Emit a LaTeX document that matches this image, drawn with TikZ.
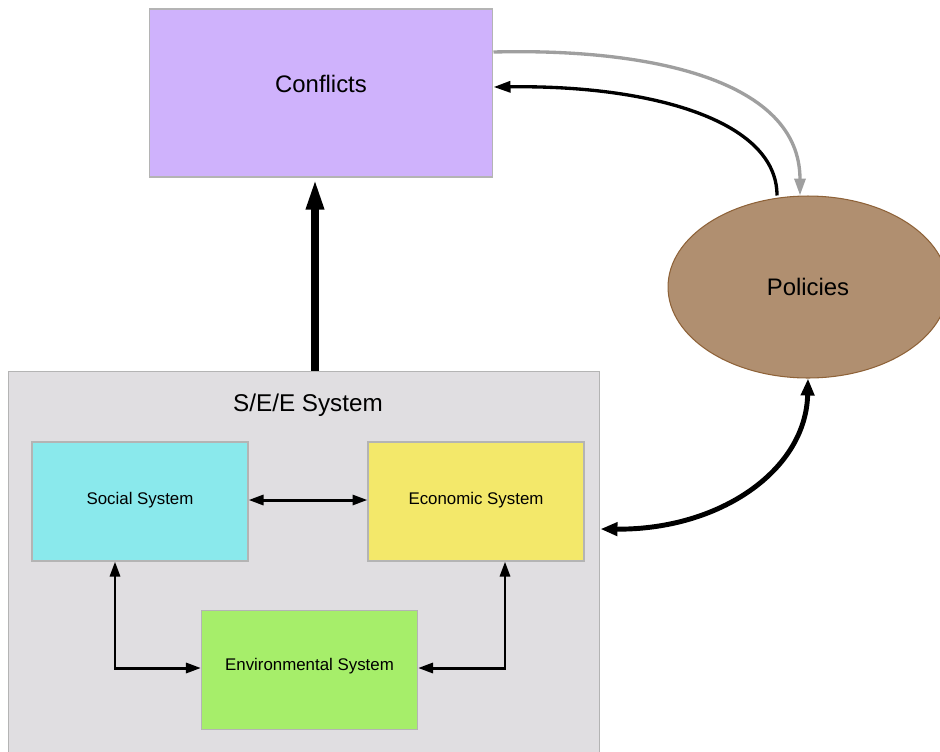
\documentclass[tikz,border=0pt]{standalone}
\usepackage{fontspec}
\setmainfont{Liberation Sans}
\usetikzlibrary{positioning, shapes.geometric, arrows.meta}
\definecolor{conflictLilac}{HTML}{CFB2FC}
\definecolor{policyBrown}{HTML}{B08F70}
\definecolor{policyEdge}{HTML}{8E6238}
\definecolor{socialCyan}{HTML}{8AE9EC}
\definecolor{econYellow}{HTML}{F3E86A}
\definecolor{envGreen}{HTML}{A6EE6A}
\definecolor{systemGray}{HTML}{E0DEE1}
\definecolor{edgeGray}{HTML}{B4B4B4}

\begin{document}
\begin{tikzpicture}[
    x=0.02cm, y=-0.02cm,
    box/.style={rectangle, draw=edgeGray, line width=0.6pt, align=center, inner sep=0pt},
    subbox/.style={box, minimum width=4.32cm, minimum height=2.38cm, font=\fontsize{9.6}{11}\selectfont},
    arrow/.style={{Triangle[length=0.3cm, width=0.2cm]}-{Triangle[length=0.3cm, width=0.2cm]}, line width=1.7pt},
    bigarrow/.style={-{Triangle[length=0.64cm, width=0.32cm]}, line width=5pt},
    feedback/.style={-{Triangle[length=0.34cm, width=0.22cm]}, line width=1.9pt}
]
\useasboundingbox (0,0) rectangle (940,751);

% the whole S/E/E system and its parts
\node[box, fill=systemGray, minimum width=11.84cm, minimum height=8cm] (see) at (304,571) {};
\node[font=\fontsize{13.8}{16}\selectfont] (seetitle) at (308,405) {S/E/E System};
\node[subbox, fill=socialCyan] (social) at (140,501.5) {\raisebox{0.12cm}{Social System}};
\node[subbox, fill=econYellow] (econ) at (476,501.5) {\raisebox{0.12cm}{Economic System}};
\node[subbox, fill=envGreen] (env) at (309.5,670) {\raisebox{0.24cm}{Environmental System}};

% top box and policy ellipse
\node[box, fill=conflictLilac, minimum width=6.88cm, minimum height=3.36cm, font=\fontsize{13.6}{16}\selectfont] (conflicts) at (321,93) {\raisebox{0.36cm}{Conflicts}};
\node[ellipse, draw=policyEdge, line width=0.6pt, fill=policyBrown, inner sep=0pt, minimum width=5.6cm, minimum height=3.64cm, font=\fontsize{13.6}{16}\selectfont] (policies) at (808,287) {Policies};

% links inside the system
\draw[arrow] (social.east |- 0,500) -- (econ.west |- 0,500);
\draw[arrow] (social.south -| 115,0) |- (env.west |- 0,668);
\draw[arrow] (econ.south -| 505,0) |- (env.east |- 0,668);

% system drives conflicts
\draw[bigarrow] (see.north -| 315,0) -- (conflicts.south -| 315,0);

% conflicts <-> policies loop
\draw[feedback, draw=gray!75, color=gray!75] ([yshift=0.82cm]conflicts.east) .. controls (650,48) and (800,80) .. (policies.north -| 800,0);
\draw[feedback] (policies.north -| 777,0) .. controls (777,120) and (650,85) .. ([yshift=0.12cm]conflicts.east);

% policies <-> system
\draw[{Triangle[length=0.34cm, width=0.26cm]}-{Triangle[length=0.34cm, width=0.26cm]}, line width=2.8pt] ([yshift=0.84cm]see.east) .. controls (720,530) and (806,470) .. (policies.south);
\end{tikzpicture}
\end{document}
